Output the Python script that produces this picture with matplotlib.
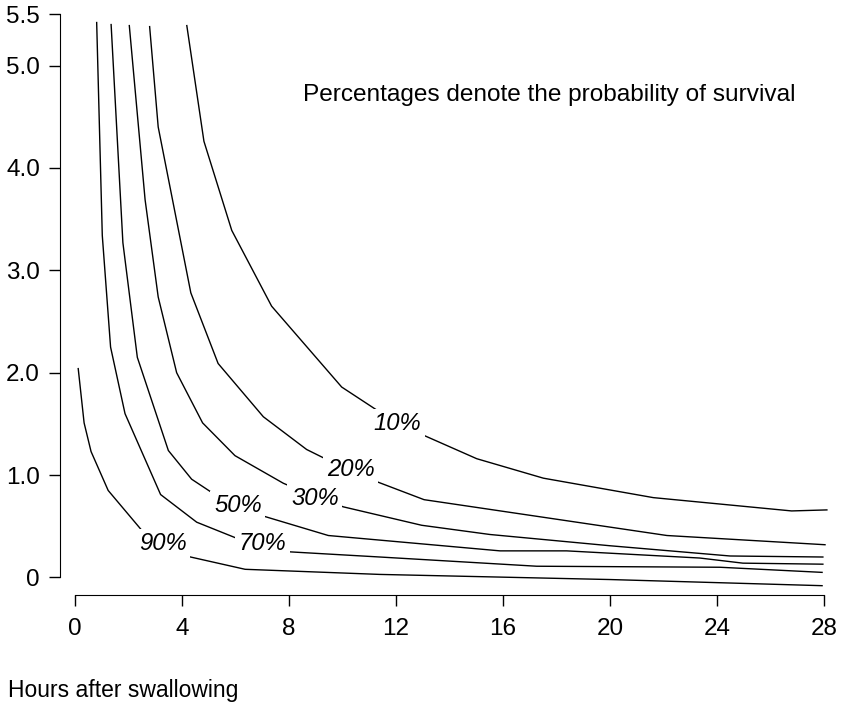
"""Survival probability contours: plasma level vs hours after swallowing.

Outputs: out.png
"""
import matplotlib
matplotlib.use("Agg")
import matplotlib.pyplot as plt

plt.rcParams["font.family"] = ["Liberation Sans", "DejaVu Sans"]

# contour polylines (hours, level)
hours_10 = [4.18, 4.82, 5.86, 7.35, 9.97, 12.07, 15.02, 17.51, 21.62, 26.79, 28.11]
level_10 = [5.39, 4.26, 3.39, 2.65, 1.86, 1.50, 1.16, 0.97, 0.78, 0.65, 0.66]

hours_20 = [2.79, 3.11, 4.33, 5.35, 7.04, 8.66, 10.28, 11.34, 13.05, 22.13, 28.04]
level_20 = [5.38, 4.40, 2.78, 2.09, 1.57, 1.25, 1.04, 0.93, 0.76, 0.41, 0.32]

hours_30 = [2.03, 2.62, 3.11, 3.80, 4.77, 5.98, 7.79, 8.97, 10.03, 12.96, 15.51,
            20.00, 24.49, 27.96]
level_30 = [5.39, 3.69, 2.74, 2.00, 1.51, 1.19, 0.92, 0.79, 0.69, 0.51, 0.42,
            0.31, 0.21, 0.20]

hours_50 = [1.35, 1.79, 2.33, 3.49, 4.36, 5.17, 6.09, 7.04, 9.47, 15.89, 18.38,
            23.36, 24.97, 27.96]
level_50 = [5.40, 3.27, 2.15, 1.24, 0.96, 0.82, 0.71, 0.60, 0.41, 0.26, 0.26,
            0.19, 0.14, 0.13]

hours_70 = [0.81, 1.02, 1.33, 1.87, 3.20, 4.55, 5.98, 6.99, 8.06, 11.40, 17.26,
            24.11, 27.93]
level_70 = [5.42, 3.34, 2.25, 1.60, 0.81, 0.54, 0.39, 0.28, 0.25, 0.20, 0.11,
            0.10, 0.05]

hours_90 = [0.12, 0.34, 0.60, 1.24, 2.53, 3.29, 4.15, 6.36, 11.40, 20.00, 27.93]
level_90 = [2.04, 1.51, 1.23, 0.85, 0.45, 0.30, 0.21, 0.08, 0.03, -0.02, -0.08]

labels = ["10%", "20%", "30%", "50%", "70%", "90%"]
label_x = [12.04, 10.31, 8.97, 6.09, 7.01, 3.28]
label_y = [1.50, 1.05, 0.77, 0.70, 0.33, 0.33]

x_ticks = [0, 4, 8, 12, 16, 20, 24, 28]
y_ticks = [0, 1, 2, 3, 4, 5, 5.5]
y_ticklabels = ["0", "1.0", "2.0", "3.0", "4.0", "5.0", "5.5"]


def main():
    fig = plt.figure(figsize=(8.42, 7.11), dpi=100)
    ax = fig.add_axes([60 / 842, 116 / 711, 780 / 842, 582 / 711])

    curves = [(hours_10, level_10), (hours_20, level_20), (hours_30, level_30),
              (hours_50, level_50), (hours_70, level_70), (hours_90, level_90)]
    for hx, lv in curves:
        ax.plot(hx, lv, color="black", lw=1.0, solid_joinstyle="miter")

    for lab, lx, ly in zip(labels, label_x, label_y):
        ax.text(lx, ly, lab, ha="center", va="center", fontsize=17.2,
                style="italic", zorder=5,
                bbox=dict(facecolor="white", edgecolor="none", pad=2.5))

    ax.text(17.74, 4.71, "Percentages denote the probability of survival",
            ha="center", va="center", fontsize=17.6)

    ax.set_xlim(-0.561, 28.6)
    ax.set_ylim(-0.171, 5.513)

    for side in ("top", "right"):
        ax.spines[side].set_visible(False)
    ax.spines["left"].set_bounds(0, 5.5)
    ax.spines["bottom"].set_bounds(0, 28)

    ax.set_xticks(x_ticks)
    ax.set_xticklabels([str(t) for t in x_ticks])
    ax.set_yticks(y_ticks)
    ax.set_yticklabels(y_ticklabels)
    ax.tick_params(axis="both", labelsize=17.5, length=7.9, width=1.0,
                   color="black")
    ax.tick_params(axis="y", pad=6.5)
    ax.tick_params(axis="x", pad=9)

    fig.text(8 / 842, 1 - 690 / 711, "Hours after swallowing",
             ha="left", va="center", fontsize=16.5)

    fig.savefig("out.png", dpi=100)


if __name__ == "__main__":
    main()
